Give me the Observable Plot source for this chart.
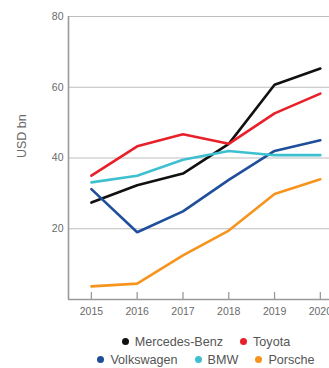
<!DOCTYPE html>
<html>
<head>
<meta charset="utf-8">
<script src="https://cdn.jsdelivr.net/npm/d3@7"></script>
<script src="https://cdn.jsdelivr.net/npm/@observablehq/plot@0.6"></script>
<style>
  html, body { margin: 0; padding: 0; background: #fff; overflow: hidden; }
  body { width: 329px; height: 368px; position: relative; font-family: Arial, "Liberation Sans", Helvetica, sans-serif; }
  #legend { position: absolute; top: 333px; left: 0; width: 412px; text-align: center; font-size: 12.6px; line-height: 18px; color: #555; white-space: nowrap; }
  #legend .item { display: inline-block; margin: 0 8.5px; }
  #legend .dot { display: inline-block; width: 7px; height: 7px; border-radius: 50%; margin-right: 6px; vertical-align: 1px; }
</style>
</head>
<body>
<div id="chart"></div>
<div id="legend"></div>
<script>
const years = [2015, 2016, 2017, 2018, 2019, 2020];
const seriesNames = ["Mercedes-Benz", "Toyota", "Volkswagen", "BMW", "Porsche"];
const mercedes = [27.4, 32.3, 35.6, 44.0, 60.7, 65.3];
const toyota = [35.0, 43.3, 46.7, 44.0, 52.6, 58.2];
const volkswagen = [31.2, 19.0, 24.9, 33.8, 42.0, 45.0];
const bmw = [33.1, 35.0, 39.5, 42.0, 40.8, 40.8];
const porsche = [3.7, 4.5, 12.5, 19.5, 29.8, 34.0];
const yTicks = [20, 40, 60, 80];
const colors = ["#111111", "#e8202a", "#1f4e9a", "#3fc0d0", "#f7941d"];

const valuesBySeries = [mercedes, toyota, volkswagen, bmw, porsche];
const data = seriesNames.flatMap((name, i) =>
  years.map((year, j) => ({ name, year, value: valuesBySeries[i][j] }))
);

const chart = Plot.plot({
  width: 329,
  height: 322,
  marginLeft: 68,
  marginRight: 0,
  marginTop: 16,
  marginBottom: 23,
  style: { fontFamily: 'Arial, "Liberation Sans", Helvetica, sans-serif', background: "#fff", overflow: "visible" },
  x: { domain: [2014.5, 2020.2] },
  y: { domain: [0, 80] },
  color: { domain: seriesNames, range: colors },
  marks: [
    Plot.gridY(yTicks, { stroke: "#bdbdbd", strokeOpacity: 1, strokeWidth: 1 }),
    Plot.ruleY([0], { stroke: "#9a9a9a", strokeWidth: 1.6 }),
    Plot.ruleX([2014.5], { y1: 0, y2: 80, stroke: "#9a9a9a", strokeWidth: 1.6 }),
    Plot.ruleX(years, { y1: 0, y2: 2, stroke: "#9a9a9a", strokeWidth: 1.3 }),
    Plot.axisY(yTicks, { tickSize: 0, tickPadding: 5, fontSize: 10.5, fill: "#6a6a6a", label: null }),
    Plot.text(["USD bn"], { frameAnchor: "left", dx: -47, rotate: -90, fontSize: 12.5, fill: "#6a6a6a" }),
    Plot.axisX(years, { tickSize: 0, tickPadding: 8, fontSize: 10.5, fill: "#6a6a6a", tickFormat: d => String(d), label: null }),
    Plot.lineY(data, { x: "year", y: "value", z: "name", stroke: "name", strokeWidth: 2.6, strokeLinejoin: "miter" })
  ]
});
document.getElementById("chart").appendChild(chart);

const legend = document.getElementById("legend");
const rows = [[0, 1], [2, 3, 4]];
rows.forEach(r => {
  const row = document.createElement("div");
  r.forEach(i => {
    const item = document.createElement("span");
    item.className = "item";
    const dot = document.createElement("span");
    dot.className = "dot";
    dot.style.background = colors[i];
    item.appendChild(dot);
    item.appendChild(document.createTextNode(seriesNames[i]));
    row.appendChild(item);
  });
  legend.appendChild(row);
});
</script>
</body>
</html>
